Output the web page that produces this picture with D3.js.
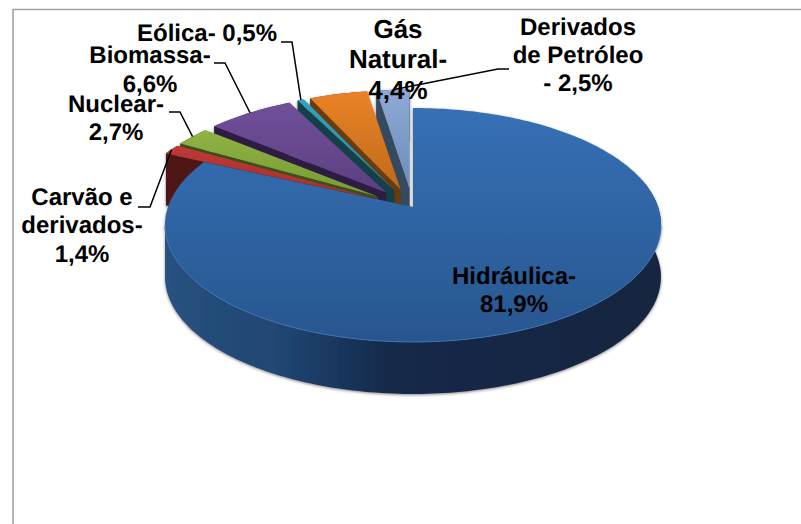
<!DOCTYPE html>
<html>
<head>
<meta charset="utf-8">
<script src="https://cdn.jsdelivr.net/npm/d3@7"></script>
<style>
  html, body { margin: 0; padding: 0; background: #fff; }
  svg { display: block; }
  text { font-family: 'Liberation Sans', Arial, sans-serif; font-weight: 700; fill: #000; text-rendering: geometricPrecision; }
</style>
</head>
<body>
<div id="chart"></div>
<script>
// slices run clockwise from 12 o'clock
const CATEGORIES = ['Hidráulica', 'Carvão e derivados', 'Nuclear', 'Biomassa', 'Eólica', 'Gás Natural', 'Derivados de Petróleo'];
const VALUES = [81.9, 1.4, 2.7, 6.6, 0.5, 4.4, 2.5];
const LABEL_LINES = [
  ['Hidráulica-', '81,9%'],
  ['Carvão e', 'derivados-', '1,4%'],
  ['Nuclear-', '2,7%'],
  ['Biomassa-', '6,6%'],
  ['Eólica- 0,5%'],
  ['Gás', 'Natural-', '4,4%'],
  ['Derivados', 'de Petróleo', '- 2,5%'],
];

const TOP_COLORS = [
  ['#3670b6', '#28568f'],
  ['#c0383a', '#a82c2a'],
  ['#8fb343', '#779a35'],
  ['#70509a', '#5d3f80'],
  ['#2fa3c2', '#2188a3'],
  ['#ea8226', '#c06a1a'],
  ['#8ea9d6', '#6d8cb8'],
];
const WALL_COLORS = ['#1e3f69', '#4f1613', '#3c4f17', '#2d1f44', '#123f4a', '#6b3a0d', '#36485f'];

// label placement: centre x, baselines, font size, leader start and elbow
const LABEL_POS = [
  { x: 514, y: [284, 312], size: 24 },
  { x: 82, y: [205, 233, 262], size: 24, leader: [[138, 207], [150, 207]] },
  { x: 116, y: [112, 140], size: 24, leader: [[169, 112], [180, 112]] },
  { x: 150, y: [63, 92], size: 24, leader: [[214, 63], [225, 63]] },
  { x: 207, y: [41], size: 24, leader: [[281, 42], [292, 42]] },
  { x: 398, y: [38, 68, 99], size: 26 },
  { x: 578, y: [35, 63, 91], size: 24, leader: [[509, 69], [498, 69]] },
];

const width = 801;
const height = 524;

// pie geometry, fitted to the perspective of the original
const apex = { x: 413, y: 207 };
const radiusX = 245;
const radiusY = 114.2;
const perspective = 0.1538;
const depth = 52;
const explodeX = 43;
const explodeY = 18.5;

const svg = d3.select('#chart').append('svg')
  .attr('width', width)
  .attr('height', height)
  .attr('viewBox', `0 0 ${width} ${height}`);

// chart frame: only top and left sides show in the crop
svg.append('path')
  .attr('d', `M13,${height}V9.5H${width}`)
  .attr('fill', 'none')
  .attr('stroke', '#a3a3a3')
  .attr('stroke-width', 1.6);

const defs = svg.append('defs');

const shadow = defs.append('filter')
  .attr('id', 'pie-shadow')
  .attr('x', '-5%').attr('y', '-5%')
  .attr('width', '110%').attr('height', '110%');
shadow.append('feDropShadow')
  .attr('dx', 0).attr('dy', 1)
  .attr('stdDeviation', 1.5)
  .attr('flood-color', '#555')
  .attr('flood-opacity', 0.7);

TOP_COLORS.forEach((c, i) => {
  const grad = defs.append('linearGradient')
    .attr('id', `top-${i}`)
    .attr('x1', 0).attr('y1', 0).attr('x2', 0).attr('y2', 1);
  grad.append('stop').attr('offset', '0%').attr('stop-color', c[0]);
  grad.append('stop').attr('offset', '100%').attr('stop-color', c[1]);
});

const sideGrad = defs.append('linearGradient')
  .attr('id', 'blue-side')
  .attr('x1', 0).attr('y1', 0).attr('x2', 1).attr('y2', 0);
[['0%', '#27527f'], ['25%', '#1f4470'], ['45%', '#14294a'], ['100%', '#12253f']].forEach((s) => {
  sideGrad.append('stop').attr('offset', s[0]).attr('stop-color', s[1]);
});

const slices = d3.pie().sort(null).value(d => d)(VALUES);

// rim point of the top face, angle in radians clockwise from the top
function rimPoint(angle, off) {
  const u = Math.sin(angle);
  const v = Math.cos(angle);
  const w = 1 + perspective * v;
  return [apex.x + off[0] + radiusX * u / w, apex.y + off[1] - radiusY * v / w];
}

function sliceOffset(d, i) {
  if (i === 0) return [0, 0]; // hidráulica stays in place, the rest is pulled out
  const mid = (d.startAngle + d.endAngle) / 2;
  return [explodeX * Math.sin(mid), -explodeY * Math.cos(mid)];
}

function rimPoints(a0, a1, off) {
  const steps = Math.max(2, Math.ceil((a1 - a0) / 0.02));
  return d3.range(steps + 1).map(k => rimPoint(a0 + (a1 - a0) * k / steps, off));
}

const drop = pts => pts.map(p => [p[0], p[1] + depth]);
const line = d3.line();
const closed = pts => `${line(pts)}Z`;

const pie = svg.append('g').attr('class', 'pie').attr('filter', 'url(#pie-shadow)');

// paint back to front: the small slices first, last one first, hidráulica on top
d3.range(slices.length - 1, -1, -1).forEach((i) => {
  const d = slices[i];
  const off = sliceOffset(d, i);
  const center = [apex.x + off[0], apex.y + off[1]];
  const rim = rimPoints(d.startAngle, d.endAngle, off);
  const g = pie.append('g').attr('class', `slice slice${i}`);

  if (i === 0) {
    // front wall, from the right-hand side round to the left
    const front = rimPoints(Math.PI * 0.42, d.endAngle - 0.6, off);
    g.append('path')
      .attr('d', closed(front.concat(drop(front).reverse())))
      .attr('fill', 'url(#blue-side)');
  } else {
    g.append('path')
      .attr('d', closed(rim.concat(drop(rim).reverse())))
      .attr('fill', WALL_COLORS[i]);
    const edge = [rim[0], center];
    g.append('path')
      .attr('d', closed(edge.concat(drop(edge).reverse())))
      .attr('fill', WALL_COLORS[i]);
  }

  g.append('path')
    .attr('d', closed(rim.concat([center])))
    .attr('fill', `url(#top-${i})`);

  if (i === 0) {
    // light bevel along the front of the top face
    g.append('path')
      .attr('d', line(rimPoints(Math.PI * 0.55, Math.PI * 1.45, off)))
      .attr('fill', 'none')
      .attr('stroke', '#3f74b4')
      .attr('stroke-width', 1);
  }
});

// leaders end on the middle of each slice's rim
const leaders = svg.append('g').attr('class', 'leaders');
LABEL_POS.forEach((p, i) => {
  if (!p.leader) return;
  const d = slices[i];
  const end = rimPoint((d.startAngle + d.endAngle) / 2, sliceOffset(d, i));
  leaders.append('path')
    .attr('d', line(p.leader.concat([end])))
    .attr('fill', 'none')
    .attr('stroke', '#000')
    .attr('stroke-width', 1.5);
});

const labels = svg.append('g').attr('class', 'labels');
LABEL_LINES.forEach((lines, i) => {
  const p = LABEL_POS[i];
  const t = labels.append('text')
    .attr('class', `label label${i}`)
    .attr('data-category', CATEGORIES[i])
    .attr('text-anchor', 'middle')
    .attr('font-size', p.size);
  lines.forEach((s, k) => {
    t.append('tspan').attr('x', p.x).attr('y', p.y[k]).text(s);
  });
});
</script>
</body>
</html>
